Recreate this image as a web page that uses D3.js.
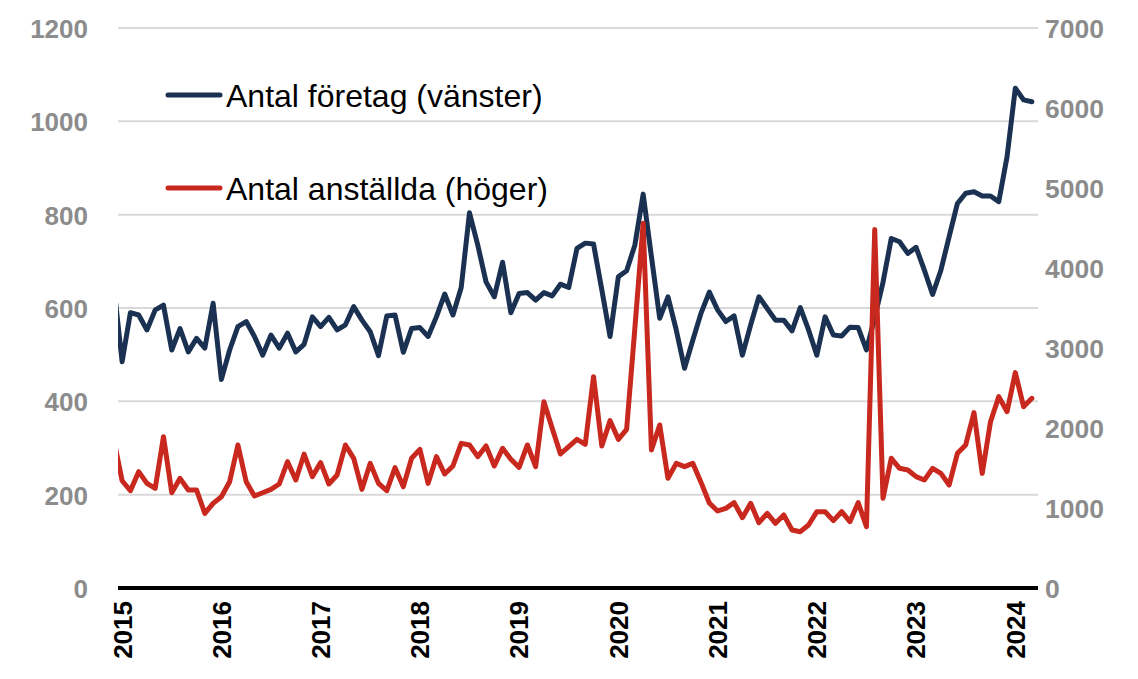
<!DOCTYPE html>
<html>
<head>
<meta charset="utf-8">
<script src="https://cdn.jsdelivr.net/npm/d3@7"></script>
<style>
  html, body { margin: 0; padding: 0; background: #ffffff; }
  svg { display: block; }
</style>
</head>
<body>
<script>
// Month index 0 = Jan 2015; first value is Dec 2014 (index -1, clipped at the plot edge)
const startIndex = -1;
const firms = [645,
  485,590,585,553,596,606,510,556,506,535,514,610,
  447,510,560,571,539,499,542,514,546,506,522,581,
  560,580,553,564,603,574,549,498,583,585,505,556,
  558,539,581,630,585,644,804,735,656,624,698,590,
  631,633,617,633,626,651,644,728,739,737,639,539,
  667,680,735,844,710,578,624,553,471,531,589,634,
  596,571,583,499,564,624,599,574,574,551,601,553,
  499,581,542,540,559,558,510,580,655,749,742,717,
  730,681,629,681,753,824,846,849,840,840,828,924,
  1071,1046,1042];
const employees = [1850,
  1341,1216,1454,1308,1246,1891,1191,1371,1225,1225,933,1058,
  1141,1329,1788,1329,1150,1191,1233,1300,1579,1350,1673,1392,
  1567,1300,1413,1788,1621,1233,1558,1308,1216,1504,1267,1621,
  1733,1308,1642,1425,1525,1808,1788,1642,1775,1525,1746,1610,
  1508,1788,1517,2329,1996,1675,1767,1858,1796,2642,1775,2092,
  1858,1983,3250,4558,1725,2038,1371,1558,1517,1558,1320,1062,
  963,996,1067,879,1058,817,933,808,913,725,704,788,
  954,954,842,954,829,1067,767,4480,1121,1621,1496,1475,
  1392,1350,1496,1433,1288,1683,1788,2192,1433,2079,2392,2204,
  2692,2267,2371];
const yearLabels = ["2015","2016","2017","2018","2019","2020","2021","2022","2023","2024"];
const leftTicks = [0,200,400,600,800,1000,1200];
const rightTicks = [0,1000,2000,3000,4000,5000,6000,7000];
const seriesNames = ["Antal företag (vänster)", "Antal anställda (höger)"];
const colors = ["#1b3151", "#c8281e"];

const W = 1138, H = 679;
const plot = {left: 118, right: 1036, top: 28, bottom: 588};
const lastIndex = startIndex + firms.length - 1;

const x = d3.scaleLinear().domain([-0.5, lastIndex + 0.5]).range([plot.left, plot.right]);
const yL = d3.scaleLinear().domain([0, 1200]).range([plot.bottom, plot.top]);
const yR = d3.scaleLinear().domain([0, 7000]).range([plot.bottom, plot.top]);

const svg = d3.select("body").append("svg").attr("width", W).attr("height", H);

svg.append("defs").append("clipPath").attr("id", "plotclip")
  .append("rect")
  .attr("x", plot.left).attr("y", 0)
  .attr("width", plot.right - plot.left).attr("height", plot.bottom + 10);

// gridlines
svg.append("g").selectAll("line").data(leftTicks.filter(d => d > 0)).join("line")
  .attr("x1", plot.left).attr("x2", plot.right + 2)
  .attr("y1", d => yL(d)).attr("y2", d => yL(d))
  .attr("stroke", "#d9d9d9").attr("stroke-width", 2);

const fontTick = "'Liberation Sans', Arial, sans-serif";
const fmt = d3.format("d");

// left axis labels
const leftAxis = d3.axisLeft(yL).tickValues(leftTicks).tickFormat(fmt).tickSize(0).tickPadding(0);
const gL = svg.append("g").attr("transform", `translate(88,0)`).call(leftAxis);
gL.select(".domain").remove();
gL.selectAll("text").attr("fill", "#8c8c8c").attr("font-family", fontTick)
  .attr("font-size", 26).attr("font-weight", "bold").attr("dy", "0.36em").attr("x", 0);

// right axis labels
const rightAxis = d3.axisRight(yR).tickValues(rightTicks).tickFormat(fmt).tickSize(0).tickPadding(0);
const gR = svg.append("g").attr("transform", `translate(1045,0)`).call(rightAxis);
gR.select(".domain").remove();
gR.selectAll("text").attr("fill", "#8c8c8c").attr("font-family", fontTick)
  .attr("font-size", 26.5).attr("font-weight", "bold").attr("dy", "0.36em").attr("x", 0);

// lines
const idx = i => startIndex + i;
const lineL = d3.line().x((d, i) => x(idx(i))).y(d => yL(d)).curve(d3.curveLinear);
const lineR = d3.line().x((d, i) => x(idx(i))).y(d => yR(d)).curve(d3.curveLinear);
const gLines = svg.append("g").attr("clip-path", "url(#plotclip)");
gLines.append("path").datum(firms).attr("d", lineL)
  .attr("fill", "none").attr("stroke", colors[0]).attr("stroke-width", 5)
  .attr("stroke-linejoin", "round").attr("stroke-linecap", "round");
gLines.append("path").datum(employees).attr("d", lineR)
  .attr("fill", "none").attr("stroke", colors[1]).attr("stroke-width", 5)
  .attr("stroke-linejoin", "round").attr("stroke-linecap", "round");

// x baseline
svg.append("line").attr("x1", plot.left).attr("x2", plot.right + 2)
  .attr("y1", plot.bottom).attr("y2", plot.bottom)
  .attr("stroke", "#000").attr("stroke-width", 4);

// year labels (rotated)
svg.append("g").selectAll("text").data(yearLabels).join("text")
  .attr("transform", (d, i) => `translate(${x(i * 12)},601) rotate(-90)`)
  .attr("text-anchor", "end").attr("dy", "0.36em")
  .attr("font-family", fontTick).attr("font-size", 26).attr("font-weight", "bold")
  .attr("fill", "#000").text(d => d);

// legend
const legendY = [95, 188];
const lg = svg.append("g").selectAll("g").data(seriesNames).join("g")
  .attr("transform", (d, i) => `translate(168,${legendY[i]})`);
lg.append("line").attr("x1", 0).attr("x2", 52).attr("y1", 0).attr("y2", 0)
  .attr("stroke", (d, i) => colors[i]).attr("stroke-width", 5).attr("stroke-linecap", "round");
lg.append("text").attr("x", 58).attr("dy", "0.36em")
  .attr("font-family", fontTick).attr("font-size", 32).attr("fill", "#000")
  .text(d => d);
</script>
</body>
</html>
